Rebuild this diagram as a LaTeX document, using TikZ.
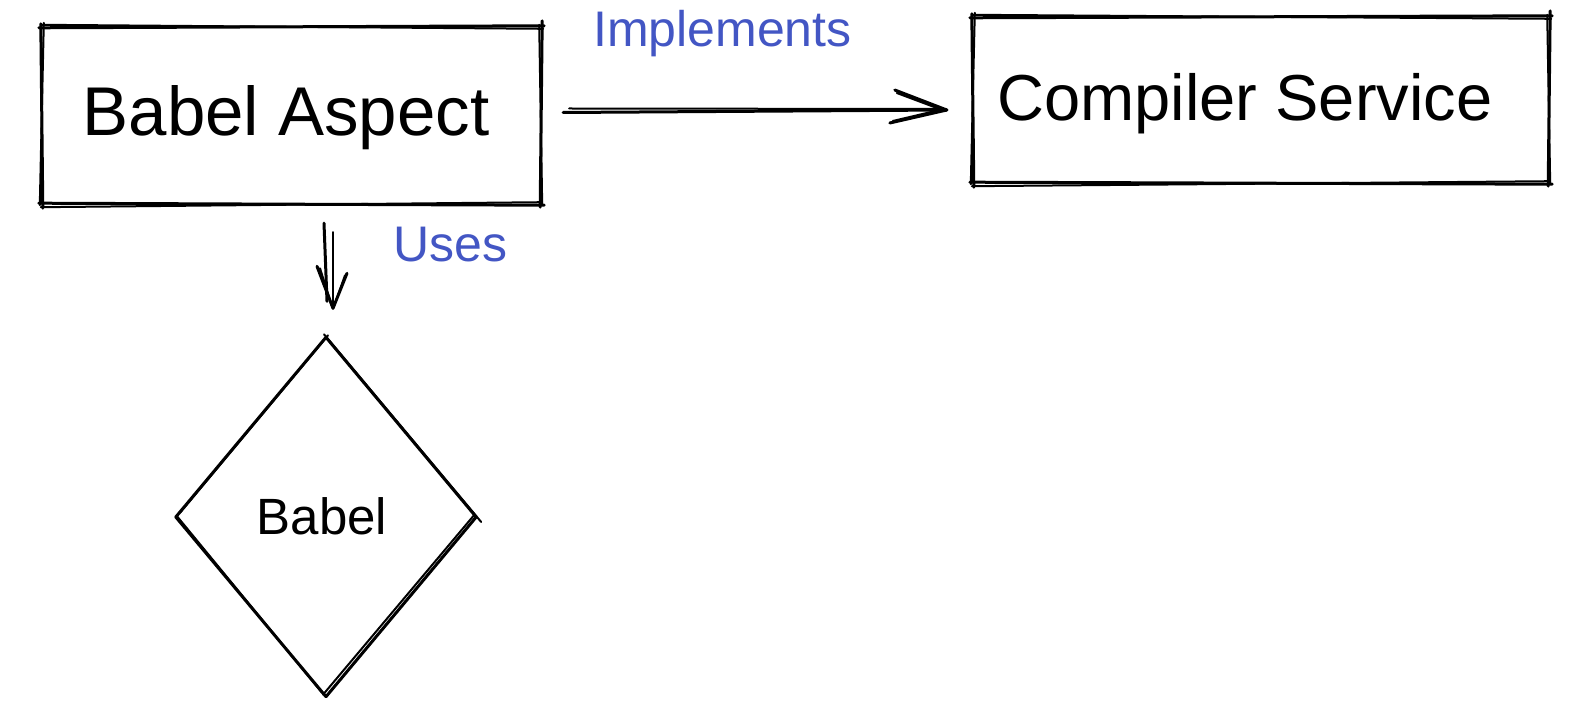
\documentclass[tikz,border=0pt]{standalone}
\usepackage{fontspec}
\setmainfont{Liberation Sans}
\usetikzlibrary{calc,shapes.geometric}
\definecolor{lbl}{HTML}{4356C4}
\tikzset{
  sk/.style={line width=3pt, line cap=round, line join=round, black},
  sktwo/.style={line width=2pt, line cap=round, line join=round, black},
  boxnode/.style={inner sep=0pt, draw=none},
  maintext/.style={inner sep=0pt, anchor=base, text=black},
  lbltext/.style={text=lbl, font=\fontsize{50}{60}\selectfont, inner sep=0pt, anchor=base west},
}
\newcommand\sketchrect[1]{%
  \draw[sk] ($(#1.north west)+(-3,1)$) -- ($(#1.north east)+(3,-1)$);
  \draw[sktwo] ($(#1.north west)+(-1,-2)$) -- ($(#1.north east)+(2,2)$);
  \draw[sk] ($(#1.north east)+(1,-6)$) -- ($(#1.south east)+(-1,3)$);
  \draw[sktwo] ($(#1.north east)+(-2,-2)$) -- ($(#1.south east)+(1,1)$);
  \draw[sk] ($(#1.south east)+(3,1)$) -- ($(#1.south west)+(-3,-1)$);
  \draw[sktwo] ($(#1.south east)+(1,-2)$) -- ($(#1.south west)+(-1,3)$);
  \draw[sk] ($(#1.south west)+(1,4)$) -- ($(#1.north west)+(-1,-3)$);
  \draw[sktwo] ($(#1.south west)+(-2,1)$) -- ($(#1.north west)+(2,-4)$);
}
\begin{document}
\begin{tikzpicture}[x=1pt,y=-1pt]
  \useasboundingbox (0,0) rectangle (1580,708);
  \fill[white] (0,0) rectangle (1580,708);

  % boxes
  \node[boxnode, minimum width=499pt, minimum height=177pt] (aspect) at (291.5,115.5) {};
  \node[boxnode, minimum width=576pt, minimum height=166pt] (compilerbox) at (1261,100) {};
  \node[boxnode, diamond, minimum width=300pt, minimum height=359pt] (babel) at (326,517) {};

  \sketchrect{aspect}
  \sketchrect{compilerbox}

  % texts
  \node[maintext, font=\fontsize{69}{80}\selectfont] (aspecttext) at (286,136) {Babel Aspect};
  \node[maintext, font=\fontsize{65}{78}\selectfont] (compilertext) at (1245,121) {Compiler Service};
  \node[maintext, font=\fontsize{51}{60}\selectfont] (babeltext) at (322,534) {Babel};

  % diamond strokes
  \draw[sk] (babel.north) -- (babel.east);
  \draw[sktwo] ($(babel.north)+(-2,-3)$) -- ($(babel.east)+(5,5)$);
  \draw[sk] (babel.east) -- (babel.south);
  \draw[sktwo] ($(babel.east)+(-2,-2)$) -- ($(babel.south)+(-3,-2)$);
  \draw[sk] (babel.south) -- (babel.west);
  \draw[sktwo] ($(babel.south)+(-4,-4)$) -- ($(babel.west)+(1,-1)$);
  \draw[sk] (babel.west) -- (babel.north);
  \draw[sktwo] ($(babel.west)+(4,-4)$) -- ($(babel.north)+(2,-2)$);

  % Implements arrow
  \coordinate (i1) at ($(aspect.east)+(22,-3)$);
  \coordinate (i2) at ($(compilerbox.west)+(-26,10)$);
  \draw[sk] (i1) -- (i2);
  \draw[sktwo] ($(i1)+(6,-4)$) -- ($(i2)+(-6,-1)$);
  \draw[sk] (i2) -- ($(i2)+(-52,-20)$);
  \draw[sktwo] ($(i2)+(-2,1)$) -- ($(i2)+(-50,-17)$);
  \draw[sk] (i2) -- ($(i2)+(-57,13)$);
  \draw[sktwo] ($(i2)+(-3,-1)$) -- ($(i2)+(-54,11)$);
  \node[lbltext] (impl) at (593,47) {Implements};

  % Uses arrow
  \coordinate (u1) at ($(aspect.south)+(32.5,19)$);
  \coordinate (u2) at ($(babel.north)+(7,-29)$);
  \draw[sk] (u1) -- ($(u2)+(-6,-7)$);
  \draw[sktwo] ($(u1)+(9,9)$) -- (u2);
  \draw[sk] (u2) -- ($(u2)+(-16,-42)$);
  \draw[sktwo] ($(u2)+(-1,-2)$) -- ($(u2)+(-13,-40)$);
  \draw[sk] (u2) -- ($(u2)+(14,-35)$);
  \draw[sktwo] ($(u2)+(1,-2)$) -- ($(u2)+(12,-33)$);
  \node[lbltext] (uses) at (393,262) {Uses};
\end{tikzpicture}
\end{document}
